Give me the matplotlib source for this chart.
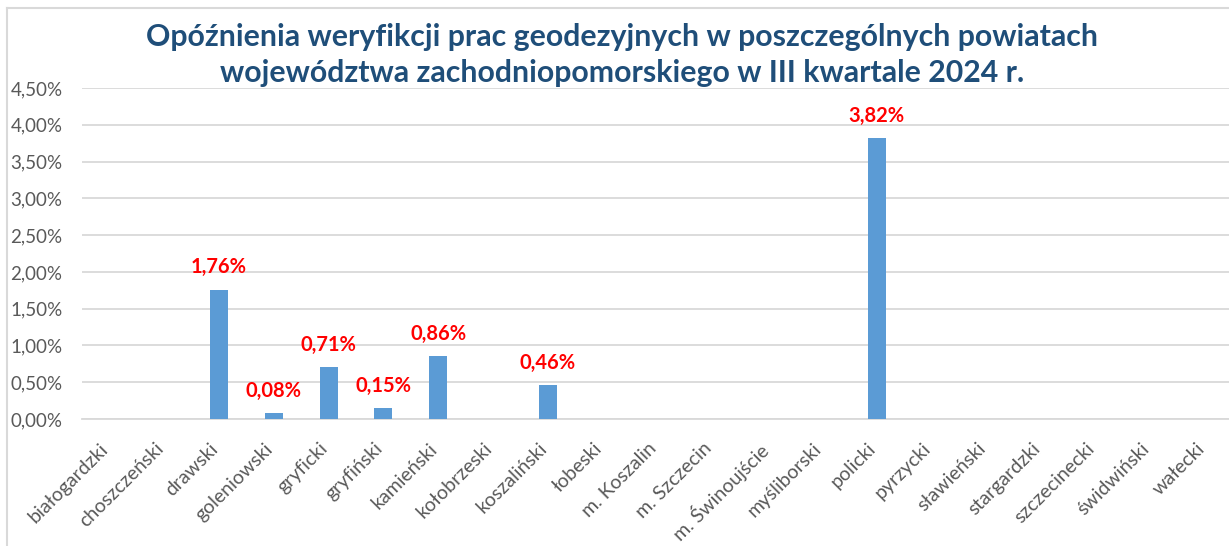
import matplotlib.pyplot as plt
import matplotlib.transforms as mtransforms
from matplotlib.ticker import FuncFormatter, MultipleLocator
from matplotlib.lines import Line2D

plt.rcParams['font.family'] = ['Lato', 'DejaVu Sans']

powiaty = ['białogardzki', 'choszczeński', 'drawski', 'goleniowski', 'gryficki',
           'gryfiński', 'kamieński', 'kołobrzeski', 'koszaliński', 'łobeski',
           'm. Koszalin', 'm. Szczecin', 'm. Świnoujście', 'myśliborski', 'policki',
           'pyrzycki', 'sławieński', 'stargardzki', 'szczecinecki', 'świdwiński', 'wałecki']
opoznienia = [0, 0, 1.76, 0.08, 0.71, 0.15, 0.86, 0, 0.46, 0,
              0, 0, 0, 0, 3.82, 0, 0, 0, 0, 0, 0]
title = ('Opóźnienia weryfikcji prac geodezyjnych w poszczególnych powiatach\n'
         'województwa zachodniopomorskiego w III kwartale 2024 r.')

W, H = 1229, 546
fig = plt.figure(figsize=(W / 100, H / 100), dpi=100)
ax = fig.add_axes([82 / W, 1 - 419 / H, (1233 - 82) / W, (419 - 88) / H])

x = list(range(len(powiaty)))
ax.bar(x, opoznienia, width=0.33, color='#5B9BD5', zorder=3)

for xi, v in zip(x, opoznienia):
    if v > 0:
        ax.annotate(f'{v:.2f}%'.replace('.', ','), (xi, v), xytext=(0, 16),
                    textcoords='offset points', ha='center', va='center',
                    color='#FF0000', fontsize=14.5, fontweight='bold')

ax.set_xlim(-0.5, len(powiaty) - 0.5)
ax.set_ylim(0, 4.5)
ax.yaxis.set_major_locator(MultipleLocator(0.5))
ax.yaxis.set_major_formatter(FuncFormatter(lambda v, p: f'{v:.2f}%'.replace('.', ',')))
ax.grid(axis='y', color='#D9D9D9', linewidth=1.3, zorder=0)
for s in ['top', 'right', 'left']:
    ax.spines[s].set_visible(False)
ax.spines['bottom'].set_color('#D9D9D9')
ax.spines['bottom'].set_linewidth(1.3)
ax.tick_params(axis='y', length=0, labelcolor='#595959', labelsize=13.5, pad=14)
ax.tick_params(axis='x', length=0, labelcolor='#595959', labelsize=14, pad=15)

ax.set_xticks(x)
ax.set_xticklabels(powiaty, rotation=45, ha='right', rotation_mode='anchor')
offset = mtransforms.ScaledTranslation(-7 / 72, 0, fig.dpi_scale_trans)
for lab in ax.get_xticklabels():
    lab.set_transform(lab.get_transform() + offset)

fig.text(622 / W, 1 - 55 / H, title, ha='center', va='center', fontsize=21.8,
         fontweight='bold', color='#1F4E79', linespacing=1.35)

# chart frame
fig.add_artist(Line2D([7 / W, 7 / W], [0, 1 - 8 / H], transform=fig.transFigure,
                      color='#D9D9D9', linewidth=1.5))
fig.add_artist(Line2D([7 / W, 1], [1 - 8 / H, 1 - 8 / H], transform=fig.transFigure,
                      color='#D9D9D9', linewidth=1.5))

fig.savefig('out.png', dpi=100)
